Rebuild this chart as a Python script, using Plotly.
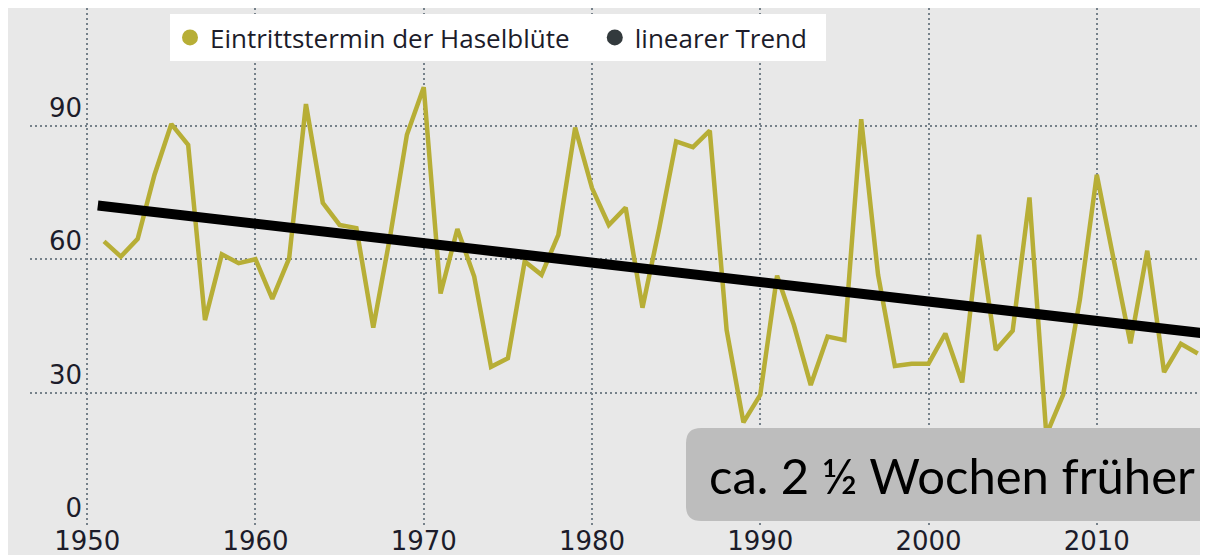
import plotly.graph_objects as go

# ---- data ----
years = list(range(1951, 2017))
bloom_day = [
    64.0, 60.6, 64.6, 79.0, 90.4, 85.7, 46.3, 61.1, 59.1, 60.0,   # 1951-1960
    51.1, 60.2, 94.9, 72.7, 67.7, 67.0, 44.6, 65.1, 88.0, 98.7,   # 1961-1970
    52.3, 66.8, 56.1, 35.8, 37.7, 59.5, 56.5, 65.5, 89.6, 76.0,   # 1971-1980
    67.7, 71.6, 49.1, 67.0, 86.5, 85.2, 88.9, 44.1, 23.3, 29.5,   # 1981-1990
    56.3, 45.2, 31.7, 42.6, 41.8, 91.5, 56.5, 36.0, 36.5, 36.5,   # 1991-2000
    43.3, 32.3, 65.5, 39.6, 43.9, 73.9, 20.5, 29.5, 51.0, 79.0,   # 2001-2010
    60.0, 41.1, 61.9, 34.6, 41.0, 38.8,                           # 2011-2016
]
trend_years = [1950.63, 2016.2]
trend_values = [72.1, 43.4]

x_tickvals = [1950, 1960, 1970, 1980, 1990, 2000, 2010]
x_ticktext = ["1950", "1960", "1970", "1980", "1990", "2000", "2010"]
y_tickvals = [0, 30, 60, 90]
y_ticktext = ["\u20070", "30", "60", "90"]

series_name = "Eintrittstermin der Haselblüte"
trend_name = "linearer Trend"
note_text = "ca. 2 ½ Wochen früher"

# ---- layout constants (pixels) ----
W, H = 1208, 555
ML, MR, MT, MB = 22, 9, 0, 37
PW, PH = W - ML - MR, H - MT - MB

def px_x(p):
    return (p - ML) / PW

def px_y(p):
    return (H - MB - p) / PH

BG = "#e8e8e8"
GRID = "#76818a"
OLIVE = "#b7ae36"
TEXT = "#1c1c2a"
NBSP = "\u00a0"

fig = go.Figure()

fig.add_trace(go.Scatter(
    x=years, y=bloom_day, mode="lines",
    line=dict(color=OLIVE, width=4.5),
    showlegend=False, hoverinfo="x+y",
))
fig.add_trace(go.Scatter(
    x=trend_years, y=trend_values, mode="lines",
    line=dict(color="#000000", width=10),
    showlegend=False,
))
# legend entries (circle symbols)
fig.add_trace(go.Scatter(
    x=[None], y=[None], mode="markers", name=series_name + NBSP * 3,
    marker=dict(color=OLIVE, size=20, symbol="circle"),
))
fig.add_trace(go.Scatter(
    x=[None], y=[None], mode="markers", name=trend_name + NBSP * 2,
    marker=dict(color="#333a3d", size=20, symbol="circle"),
))

# rounded box behind the note
bx0, bx1, by0, by1, r = 678, 1240, 420, 513, 15
rx, ry = r / PW, r / PH
X0, X1, Y0, Y1 = px_x(bx0), px_x(bx1), px_y(by0), px_y(by1)
path = (
    f"M {X0 + rx} {Y0} L {X1 - rx} {Y0} Q {X1} {Y0} {X1} {Y0 - ry} "
    f"L {X1} {Y1 + ry} Q {X1} {Y1} {X1 - rx} {Y1} "
    f"L {X0 + rx} {Y1} Q {X0} {Y1} {X0} {Y1 + ry} "
    f"L {X0} {Y0 - ry} Q {X0} {Y0} {X0 + rx} {Y0} Z"
)
fig.add_shape(type="path", path=path, xref="paper", yref="paper",
              fillcolor="#bdbdbd", line=dict(width=0), layer="above")

fig.add_annotation(
    x=px_x(944), y=px_y(467), xref="paper", yref="paper",
    text=note_text, showarrow=False, xanchor="center", yanchor="middle",
    font=dict(family="Lato", size=49, color="#000000"),
)

axis_font = dict(family="DejaVu Sans", size=26, color=TEXT)

fig.update_layout(
    width=W, height=H,
    margin=dict(l=ML, r=MR, t=MT, b=MB, pad=0),
    paper_bgcolor=BG, plot_bgcolor=BG,
    showlegend=True,
    legend=dict(
        orientation="h", x=px_x(162), y=px_y(6), xanchor="left", yanchor="top",
        bgcolor="#ffffff", borderwidth=0,
        font=dict(family="Open Sans", size=26, color=TEXT),
    ),
    xaxis=dict(
        range=[1946.6, 2016.55], tickmode="array",
        tickvals=x_tickvals, ticktext=x_ticktext,
        showgrid=True, gridcolor=GRID, gridwidth=2, griddash="2px,3px",
        zeroline=False, showline=False, ticks="",
        tickfont=axis_font, ticklabelstandoff=-3,
    ),
    yaxis=dict(
        range=[0, 116.5], tickmode="array",
        tickvals=y_tickvals, ticktext=y_ticktext,
        showgrid=True, gridcolor=GRID, gridwidth=2, griddash="2px,3px",
        zeroline=False, showline=False, ticks="",
        ticklabelposition="inside top", ticklabelstandoff=16,
        tickfont=axis_font,
    ),
)

fig.write_html("out.html")
